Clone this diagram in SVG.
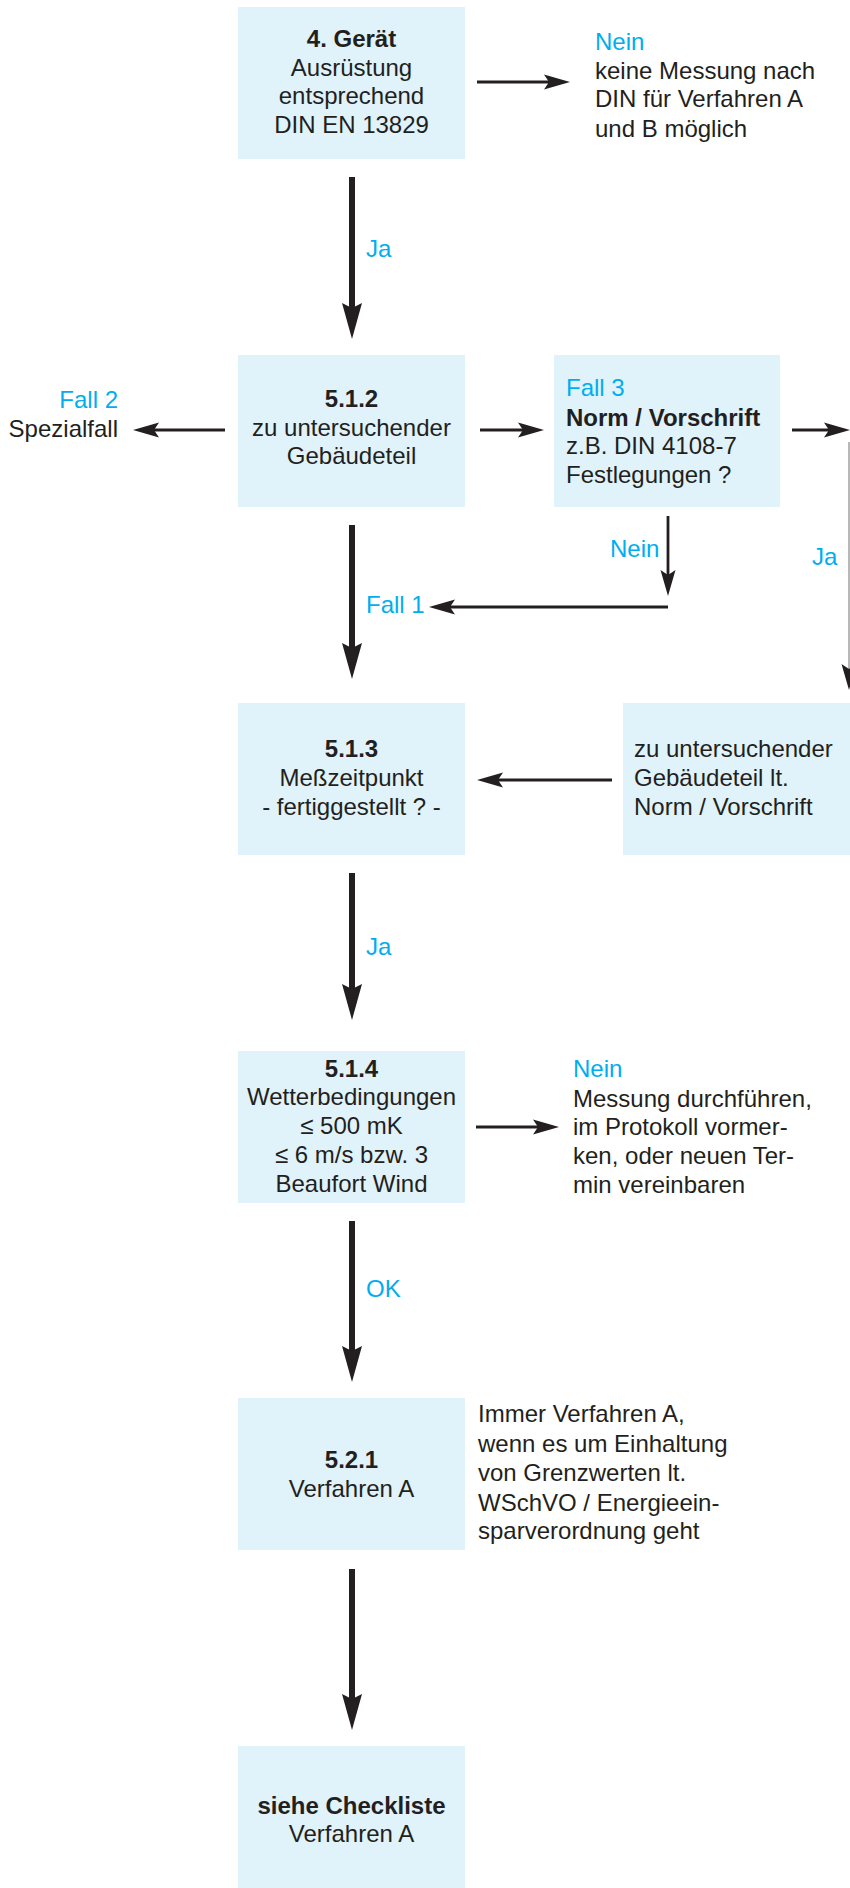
<svg xmlns="http://www.w3.org/2000/svg" width="850" height="1888" viewBox="0 0 850 1888">
<style>
.box{fill:#e0f2fa}
text{font-family:"Liberation Sans",Arial,sans-serif;font-size:24px;fill:#231f20}
.c{text-anchor:middle}
.r{text-anchor:end}
.b{font-weight:bold}
.bl{fill:#00aeef}
.thick{stroke:#231f20;stroke-width:6;fill:none}
.thin{stroke:#231f20;stroke-width:2.8;fill:none}
.gray{stroke:#a0a0a0;stroke-width:1.5;fill:none}
</style>
<defs>
<marker id="ah" markerUnits="userSpaceOnUse" viewBox="0 -11 37 22" markerWidth="37" markerHeight="22" refX="5" refY="0" orient="auto">
<path d="M36,0 L0,-10 L5,0 L0,10 Z" fill="#231f20"/>
</marker>
<marker id="as" markerUnits="userSpaceOnUse" viewBox="0 -8 27 16" markerWidth="27" markerHeight="16" refX="5" refY="0" orient="auto">
<path d="M26,0 L0,-7.5 L5,0 L0,7.5 Z" fill="#231f20"/>
</marker>
</defs>

<g id="n_geraet">
<rect class="box" x="238" y="7" width="227" height="152"/>
<text class="c b" x="351.5" y="47">4. Gerät</text>
<text class="c" x="351.5" y="76">Ausrüstung</text>
<text class="c" x="351.5" y="104">entsprechend</text>
<text class="c" x="351.5" y="133">DIN EN 13829</text>
</g>
<g id="n_nein1">
<text class="bl" x="595" y="50">Nein</text>
<text x="595" y="79">keine Messung nach</text>
<text x="595" y="107">DIN für Verfahren A</text>
<text x="595" y="137">und B möglich</text>
</g>
<g id="n_512">
<rect class="box" x="238" y="355" width="227" height="152"/>
<text class="c b" x="351.5" y="407">5.1.2</text>
<text class="c" x="351.5" y="436">zu untersuchender</text>
<text class="c" x="351.5" y="464">Gebäudeteil</text>
</g>
<g id="n_fall2">
<text class="r bl" x="118" y="408">Fall 2</text>
<text class="r" x="118" y="437">Spezialfall</text>
</g>
<g id="n_fall3">
<rect class="box" x="554" y="355" width="226" height="152"/>
<text class="bl" x="566" y="396">Fall 3</text>
<text class="b" x="566" y="426">Norm / Vorschrift</text>
<text x="566" y="454">z.B. DIN 4108-7</text>
<text x="566" y="483">Festlegungen ?</text>
</g>
<g id="n_513">
<rect class="box" x="238" y="703" width="227" height="152"/>
<text class="c b" x="351.5" y="757">5.1.3</text>
<text class="c" x="351.5" y="786">Meßzeitpunkt</text>
<text class="c" x="351.5" y="815">- fertiggestellt ? -</text>
</g>
<g id="n_norm">
<rect class="box" x="623" y="703" width="227" height="152"/>
<text x="634" y="757">zu untersuchender</text>
<text x="634" y="786">Gebäudeteil lt.</text>
<text x="634" y="815">Norm / Vorschrift</text>
</g>
<g id="n_514">
<rect class="box" x="238" y="1051" width="227" height="152"/>
<text class="c b" x="351.5" y="1077">5.1.4</text>
<text class="c" x="351.5" y="1105">Wetterbedingungen</text>
<text class="c" x="351.5" y="1134">≤ 500 mK</text>
<text class="c" x="351.5" y="1163">≤ 6 m/s bzw. 3</text>
<text class="c" x="351.5" y="1192">Beaufort Wind</text>
</g>
<g id="n_nein2">
<text class="bl" x="573" y="1077">Nein</text>
<text x="573" y="1107">Messung durchführen,</text>
<text x="573" y="1135">im Protokoll vormer-</text>
<text x="573" y="1164">ken, oder neuen Ter-</text>
<text x="573" y="1193">min vereinbaren</text>
</g>
<g id="n_521">
<rect class="box" x="238" y="1398" width="227" height="152"/>
<text class="c b" x="351.5" y="1468">5.2.1</text>
<text class="c" x="351.5" y="1497">Verfahren A</text>
</g>
<g id="n_note">
<text x="478" y="1422">Immer Verfahren A,</text>
<text x="478" y="1452">wenn es um Einhaltung</text>
<text x="478" y="1481">von Grenzwerten lt.</text>
<text x="478" y="1511">WSchVO / Energieein-</text>
<text x="478" y="1539">sparverordnung geht</text>
</g>
<g id="n_check">
<rect class="box" x="238" y="1746" width="227" height="152"/>
<text class="c b" x="351.5" y="1814">siehe Checkliste</text>
<text class="c" x="351.5" y="1842">Verfahren A</text>
</g>

<g id="connectors">
<line class="thin" x1="477" y1="82" x2="549" y2="82" marker-end="url(#as)"/>
<line class="thick" x1="352" y1="177" x2="352" y2="308" marker-end="url(#ah)"/>
<line class="thin" x1="225" y1="430" x2="154" y2="430" marker-end="url(#as)"/>
<line class="thin" x1="480" y1="430" x2="523" y2="430" marker-end="url(#as)"/>
<line class="thin" x1="792" y1="430" x2="829" y2="430" marker-end="url(#as)"/>
<line class="gray" x1="849" y1="442" x2="849" y2="669" marker-end="url(#as)"/>
<line class="thin" x1="668" y1="516" x2="668" y2="575" marker-end="url(#as)"/>
<line class="thin" x1="668" y1="607" x2="450" y2="607" marker-end="url(#as)"/>
<line class="thick" x1="352" y1="525" x2="352" y2="648" marker-end="url(#ah)"/>
<line class="thin" x1="612" y1="780" x2="498" y2="780" marker-end="url(#as)"/>
<line class="thick" x1="352" y1="873" x2="352" y2="989" marker-end="url(#ah)"/>
<line class="thin" x1="476" y1="1127" x2="538" y2="1127" marker-end="url(#as)"/>
<line class="thick" x1="352" y1="1221" x2="352" y2="1351" marker-end="url(#ah)"/>
<line class="thick" x1="352" y1="1569" x2="352" y2="1699" marker-end="url(#ah)"/>
<text class="bl" x="366" y="257">Ja</text>
<text class="bl" x="366" y="613">Fall 1</text>
<text class="bl" x="610" y="557">Nein</text>
<text class="bl" x="812" y="565">Ja</text>
<text class="bl" x="366" y="955">Ja</text>
<text class="bl" x="366" y="1297">OK</text>
</g>
</svg>
